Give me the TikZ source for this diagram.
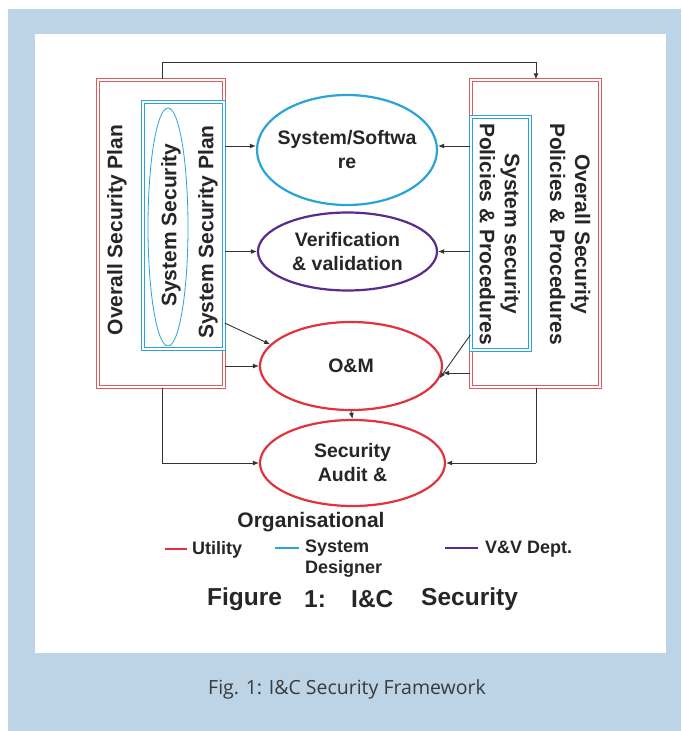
\documentclass[tikz,border=0pt]{standalone}
\usepackage{fontspec}
\setmainfont{Liberation Sans}
\newfontfamily\capfont{Open Sans}
\usetikzlibrary{shapes.geometric,arrows.meta}
\definecolor{bgblue}{HTML}{BDD4E7}
\definecolor{ured}{HTML}{E0333C}
\definecolor{boxred}{HTML}{E05A60}
\definecolor{sdblue}{HTML}{2BA3DA}
\definecolor{vvpurple}{HTML}{5A2A8E}
\definecolor{capgray}{HTML}{3A3A3A}
\definecolor{linegray}{HTML}{333333}
\tikzset{
  lbl/.style={font=\fontsize{21}{25}\selectfont\bfseries, text=black!85, align=center, inner sep=0pt},
  ell/.style={ellipse, line width=2.2pt, minimum width=180pt, align=center, inner xsep=-20pt, inner ysep=0pt, font=\fontsize{19.5}{24}\selectfont\bfseries, text=black!85},
  redbox/.style={draw=boxred, double=white, double distance=1.6pt, line width=1.4pt, minimum width=126pt, minimum height=307pt, inner sep=0pt},
  bluebox/.style={draw=sdblue, double=white, double distance=1.6pt, line width=1.4pt, inner sep=0pt},
  conn/.style={draw=linegray, line width=0.9pt, -{Latex[length=6pt,width=5pt]}},
  plain/.style={draw=linegray, line width=0.9pt},
  legline/.style={line width=2.4pt},
  legtxt/.style={lbl, font=\fontsize{18}{21}\selectfont\bfseries},
  figtxt/.style={lbl, font=\fontsize{24.5}{28}\selectfont\bfseries, anchor=west},
}
\begin{document}
\begin{tikzpicture}[x=1pt,y=-1pt]
\useasboundingbox (0,0) rectangle (681,731);
\fill[bgblue] (8,9) rectangle (681,731);
\fill[white] (35,34) rectangle (666,653);

% left boxes
\node[redbox] (lred) at (161,233.5) {};
\node[bluebox, minimum width=81pt, minimum height=247pt] (lblue) at (183.5,225.5) {};
\node[draw=sdblue, line width=0.8pt, ellipse, minimum width=40pt, minimum height=238pt] (lell) at (168,227) {};
\node[lbl, rotate=90] (tosp) at (117,230) {Overall Security Plan};
\node[lbl, rotate=90] (tss) at (171,225) {System Security};
\node[lbl, rotate=90] (tssp) at (208,232) {System Security Plan};

% right boxes
\node[redbox, minimum width=129pt] (rred) at (535.5,233.5) {};
\node[bluebox, minimum width=59pt, minimum height=233pt] (rblue) at (500.5,233.5) {};
\node[lbl, rotate=-90] (tsspp) at (500,234) {System security\\Policies \& Procedures};
\node[lbl, rotate=-90] (tospp) at (570,234) {Overall Security\\Policies \& Procedures};

% ellipses
\node[ell, draw=sdblue, minimum height=110pt] (ss) at (347,150) {System/Softwa\\re};
\node[ell, draw=vvpurple, minimum height=78pt, minimum width=179pt] (vv) at (347.5,251.5) {Verification\\\& validation};
\node[ell, draw=ured, minimum height=88pt, minimum width=182pt] (om) at (351,366) {O\&M};
\node[ell, draw=ured, minimum height=86pt, minimum width=185pt] (au) at (352.5,463) {Security\\Audit \&};

% connectors
\coordinate (topl) at (162,62);
\coordinate (topr) at (536,62);
\draw[plain] (lred.north -| topl) -- (topl) -- (topr);
\draw[conn] (topr) -- (rred.north -| topr);

\draw[conn] (lblue.east |- 0,146) -- (ss.west |- 0,146);
\draw[conn] (lblue.east |- vv.west) -- (vv.west);
\draw[conn] (lblue.east |- 0,323) -- (om.165);
\draw[conn] (lred.east |- om.west) -- (om.west);

\draw[conn] (rblue.west |- 0,146) -- (ss.east |- 0,146);
\draw[conn] (rblue.west |- vv.east) -- (vv.east);
\draw[conn] (rblue.west |- 0,335) -- (om.-8);
\draw[conn] (rred.west |- 0,373) -- (om.east |- 0,373);

\draw[conn] (om.south) -- (au.north);

\coordinate (bl) at (162,463);
\coordinate (br) at (536,463);
\draw[plain] (lred.south -| bl) -- (bl);
\draw[conn] (bl) -- (au.west);
\draw[plain] (rred.south -| br) -- (br);
\draw[conn] (br) -- (au.east);

% legend
\node[lbl, font=\fontsize{21}{24}\selectfont\bfseries] (org) at (311,522) {Organisational};
\coordinate (l1a) at (165,549); \coordinate (l1b) at (187,549);
\draw[legline, ured] (l1a) -- (l1b);
\node[legtxt, anchor=west] (util) at (192,550) {Utility};
\coordinate (l2a) at (275,548); \coordinate (l2b) at (299,548);
\draw[legline, sdblue] (l2a) -- (l2b);
\node[legtxt, anchor=north west, align=left] (sysd) at (305,540) {System\\Designer};
\coordinate (l3a) at (445,548); \coordinate (l3b) at (478,548);
\draw[legline, vvpurple] (l3a) -- (l3b);
\node[legtxt, anchor=west] (vvd) at (485,549) {V\&V Dept.};

\node[figtxt] (fg1) at (207,599) {Figure};
\node[figtxt] (fg2) at (304,599) {1:};
\node[figtxt] (fg3) at (351,599) {I\&C};
\node[figtxt] (fg4) at (421,599) {Security};

% caption
\node[font=\capfont\fontsize{19.5}{22}\selectfont, text=capgray, inner sep=0pt] (cap) at (347,689) {Fig. 1: I\&C Security Framework};
\end{tikzpicture}
\end{document}
